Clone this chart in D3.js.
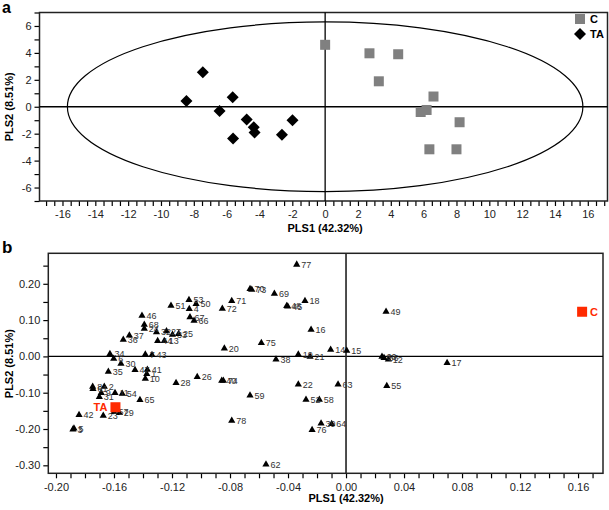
<!DOCTYPE html>
<html><head><meta charset="utf-8">
<script src="https://cdn.jsdelivr.net/npm/d3@7"></script>
<style>
body{margin:0;background:#fff;}
text{font-family:Arial,"Liberation Sans",sans-serif;}
</style></head>
<body><svg id="c" width="609" height="510"></svg>
<script>
// ---- Panel a data ----
const groupC_x = [0.0, 2.70, 4.45, 3.27, 6.60, 5.82, 6.18, 8.19, 6.35, 8.00];
const groupC_y = [4.6, 3.97, 3.90, 1.89, 0.76, -0.39, -0.24, -1.15, -3.16, -3.16];
const groupTA_x = [-7.45, -8.45, -5.63, -6.43, -4.78, -4.35, -4.30, -5.61, -2.63, -1.99];
const groupTA_y = [2.57, 0.42, 0.71, -0.32, -0.95, -1.52, -1.91, -2.35, -2.08, -1.00];
const ellipseRadii = [15.7, 6.3];
const legendLabels = ["C", "TA"];
const axisA_xTicks = [-16,-14,-12,-10,-8,-6,-4,-2,0,2,4,6,8,10,12,14,16];
const axisA_yTicks = [-6,-4,-2,0,2,4,6];

// ---- Panel b data ----
const varLabels = ["77","70","73","69","18","48","45","71","72","53","50","4","51","67","66","46","68","24","32","27","33","25","37","36","44","13","16","75","20","14","15","19","21","38","49","60","56","12","17","55","34","6","30","7","43","35","47","41","1","10","26","28","40","74","22","63","59","52","58","78","39","64","76","62","8","61","2","9","31","11","54","65","42","23","57","29","5","3"];
const varX = [-0.034,-0.0662,-0.065,-0.0494,-0.0283,-0.0409,-0.0402,-0.0788,-0.0853,-0.1083,-0.1034,-0.1081,-0.1207,-0.1076,-0.1048,-0.1407,-0.1391,-0.1391,-0.1307,-0.1238,-0.1197,-0.1155,-0.1494,-0.1536,-0.1299,-0.1253,-0.0241,-0.0584,-0.0839,-0.0106,0.0005,-0.0329,-0.0248,-0.0483,0.0276,0.0248,0.0262,0.0292,0.0697,0.0281,-0.1628,-0.1602,-0.1552,-0.1384,-0.1338,-0.1639,-0.1455,-0.137,-0.1374,-0.1384,-0.1026,-0.1172,-0.0857,-0.0846,-0.0329,-0.0055,-0.0662,-0.0276,-0.0184,-0.0788,-0.0172,-0.0099,-0.0234,-0.0552,-0.1747,-0.1745,-0.1667,-0.1688,-0.1701,-0.1593,-0.1543,-0.1421,-0.1841,-0.1674,-0.16,-0.1563,-0.1876,-0.1883];
const varY = [0.255,0.1876,0.1857,0.1747,0.1545,0.1408,0.1397,0.1545,0.1333,0.1573,0.1463,0.1325,0.1416,0.1099,0.1003,0.114,0.0893,0.0782,0.0686,0.0713,0.0617,0.0636,0.0598,0.0479,0.0444,0.0444,0.0755,0.0388,0.024,0.0204,0.0176,0.0074,0.001,-0.0063,0.125,0.001,-0.0025,-0.0063,-0.0163,-0.0796,0.0085,-0.0044,-0.0182,0.0074,0.0058,-0.0402,-0.0355,-0.0347,-0.0466,-0.0595,-0.0548,-0.0713,-0.065,-0.065,-0.0752,-0.0752,-0.1055,-0.1174,-0.1174,-0.1752,-0.1826,-0.1843,-0.2008,-0.2956,-0.0815,-0.0879,-0.0815,-0.0989,-0.1099,-0.0989,-0.1008,-0.1182,-0.1595,-0.1614,-0.1512,-0.154,-0.1964,-0.1992];
const groupLabels = ["TA", "C"];
const groupX = [-0.159, 0.1628];
const groupY = [-0.140, 0.123];
const axisB_xTicks = [-0.20,-0.16,-0.12,-0.08,-0.04,0.00,0.04,0.08,0.12,0.16];
const axisB_yTicks = [-0.30,-0.20,-0.10,0.00,0.10,0.20];

const svg = d3.select("#c");
const BLACK = "#000";

// ===== Panel a =====
const xa = d3.scaleLinear().domain([-17.4, 17.2]).range([39.5, 607.5]);
const ya = d3.scaleLinear().domain([-7, 7]).range([201, 12.5]);
const ga = svg.append("g");

const xaMinor = d3.range(-17, 17.01, 0.5);
const axA = ga.append("g").attr("transform", `translate(0,${ya(-7)})`)
  .call(d3.axisBottom(xa).tickValues(xaMinor).tickSize(5).tickPadding(4)
    .tickFormat(v => axisA_xTicks.includes(v) ? (v < 0 ? "-" + Math.abs(v) : String(v)) : ""));
const yaMinor = d3.range(-7, 7.01, 1);
const ayA = ga.append("g").attr("transform", `translate(${xa(-17.4)},0)`)
  .call(d3.axisLeft(ya).tickValues(yaMinor).tickSize(5).tickPadding(3)
    .tickFormat(v => axisA_yTicks.includes(v) ? (v < 0 ? "-" + Math.abs(v) : String(v)) : ""));
[axA, ayA].forEach(a => {
  a.select(".domain").remove();
  a.selectAll("line").attr("stroke", BLACK).attr("stroke-width", 1.2);
  a.selectAll("text").attr("font-size", 11).attr("fill", "#222").attr("font-family", "Arial, 'Liberation Sans', sans-serif");
});

ga.append("rect").attr("x", xa(-17.4)).attr("y", ya(7)).attr("width", xa(17.2) - xa(-17.4)).attr("height", ya(-7) - ya(7))
  .attr("fill", "none").attr("stroke", "#222").attr("stroke-width", 1.5);
ga.append("line").attr("x1", xa(-17.4)).attr("x2", xa(17.2)).attr("y1", ya(0)).attr("y2", ya(0)).attr("stroke", BLACK).attr("stroke-width", 1.3);
ga.append("line").attr("x1", xa(0)).attr("x2", xa(0)).attr("y1", ya(7)).attr("y2", ya(-7)).attr("stroke", BLACK).attr("stroke-width", 1.3);

ga.append("ellipse").attr("cx", xa(0)).attr("cy", ya(0))
  .attr("rx", xa(ellipseRadii[0]) - xa(0)).attr("ry", ya(0) - ya(ellipseRadii[1]))
  .attr("fill", "none").attr("stroke", BLACK).attr("stroke-width", 1.2);

const cA = groupC_x.map((v, i) => [v, groupC_y[i]]);
const tA = groupTA_x.map((v, i) => [v, groupTA_y[i]]);
ga.selectAll("rect.c").data(cA).join("rect").attr("class", "c")
  .attr("x", d => xa(d[0]) - 5).attr("y", d => ya(d[1]) - 5).attr("width", 10).attr("height", 10).attr("fill", "#808080");
const diamond = (cx, cy, r) => `M${cx},${cy - r}L${cx + r},${cy}L${cx},${cy + r}L${cx - r},${cy}Z`;
ga.selectAll("path.ta").data(tA).join("path").attr("class", "ta")
  .attr("d", d => diamond(xa(d[0]), ya(d[1]), 6)).attr("fill", BLACK);

// legend
ga.append("rect").attr("x", 575).attr("y", 14).attr("width", 10).attr("height", 10).attr("fill", "#808080");
ga.append("text").attr("x", 590).attr("y", 23).text(legendLabels[0]).attr("font-size", 11).attr("font-weight", "bold");
ga.append("path").attr("d", diamond(580, 34, 6)).attr("fill", BLACK);
ga.append("text").attr("x", 590).attr("y", 38).text(legendLabels[1]).attr("font-size", 11).attr("font-weight", "bold");

ga.append("text").attr("x", xa(0)).attr("y", 232).attr("text-anchor", "middle").attr("font-size", 11).attr("font-weight", "bold").text("PLS1 (42.32%)");
ga.append("text").attr("transform", `translate(13,${ya(0)}) rotate(-90)`).attr("text-anchor", "middle").attr("font-size", 11).attr("font-weight", "bold").text("PLS2 (8.51%)");
ga.append("text").attr("x", 2).attr("y", 13).attr("font-size", 16).attr("font-weight", "bold").text("a");

// ===== Panel b =====
const xb = d3.scaleLinear().domain([-0.2053, 0.1772]).range([48.3, 603]);
const yb = d3.scaleLinear().domain([-0.322, 0.284]).range([473.3, 253.3]);
const gb = svg.append("g");
const fmt2 = v => (v < -1e-9 ? "-" : "") + Math.abs(v).toFixed(2);
const near = (arr, v) => arr.some(t => Math.abs(t - v) < 1e-6);

const xbMinor = d3.range(-20, 18, 1).map(v => v / 100);
const axB = gb.append("g").attr("transform", `translate(0,${yb(-0.322)})`)
  .call(d3.axisBottom(xb).tickValues(xbMinor).tickSize(5).tickPadding(5)
    .tickFormat(v => near(axisB_xTicks, v) ? fmt2(v) : ""));
const ybMinor = d3.range(-6, 6, 1).map(v => v / 20);
const ayB = gb.append("g").attr("transform", `translate(${xb(-0.2053)},0)`)
  .call(d3.axisLeft(yb).tickValues(ybMinor).tickSize(5).tickPadding(3)
    .tickFormat(v => near(axisB_yTicks, v) ? fmt2(v) : ""));
[axB, ayB].forEach(a => {
  a.select(".domain").remove();
  a.selectAll("line").attr("stroke", BLACK).attr("stroke-width", 1.2);
  a.selectAll("text").attr("font-size", 11).attr("fill", "#222").attr("font-family", "Arial, 'Liberation Sans', sans-serif");
});

gb.append("rect").attr("x", xb(-0.2053)).attr("y", yb(0.284)).attr("width", xb(0.1772) - xb(-0.2053)).attr("height", yb(-0.322) - yb(0.284))
  .attr("fill", "none").attr("stroke", "#222").attr("stroke-width", 1.5);
gb.append("line").attr("x1", xb(-0.2053)).attr("x2", xb(0.1772)).attr("y1", yb(0)).attr("y2", yb(0)).attr("stroke", BLACK).attr("stroke-width", 1.3);
gb.append("line").attr("x1", xb(0)).attr("x2", xb(0)).attr("y1", yb(0.284)).attr("y2", yb(-0.322)).attr("stroke", "#222").attr("stroke-width", 1.6);

const vars = varLabels.map((l, i) => ({ l, x: varX[i], y: varY[i] }));
const tri = (cx, cy) => `M${cx},${cy - 3.5}L${cx + 3.6},${cy + 2.8}L${cx - 3.6},${cy + 2.8}Z`;
gb.selectAll("path.v").data(vars).join("path").attr("class", "v")
  .attr("d", d => tri(xb(d.x), yb(d.y))).attr("fill", BLACK);
gb.selectAll("text.v").data(vars).join("text").attr("class", "v")
  .attr("x", d => xb(d.x) + 4.5).attr("y", d => yb(d.y) + 4).attr("font-size", 9).attr("fill", "#333").text(d => d.l);

// group centroids
groupLabels.forEach((g, i) => {
  const cx = xb(groupX[i]), cy = yb(groupY[i]);
  gb.append("rect").attr("x", cx - 5).attr("y", cy - 5).attr("width", 10).attr("height", 10).attr("fill", "#ff2a00");
  gb.append("text").attr("x", i === 0 ? cx - 8 : cx + 8).attr("y", cy + 4)
    .attr("text-anchor", i === 0 ? "end" : "start").attr("font-size", 11).attr("font-weight", "bold").attr("fill", "#ff2a00").text(g);
});

gb.append("text").attr("x", xb(0)).attr("y", 502).attr("text-anchor", "middle").attr("font-size", 11).attr("font-weight", "bold").text("PLS1 (42.32%)");
gb.append("text").attr("transform", `translate(13,${yb(-0.02)}) rotate(-90)`).attr("text-anchor", "middle").attr("font-size", 11).attr("font-weight", "bold").text("PLS2 (8.51%)");
gb.append("text").attr("x", 2).attr("y", 253).attr("font-size", 17).attr("font-weight", "bold").text("b");
</script></body></html>
